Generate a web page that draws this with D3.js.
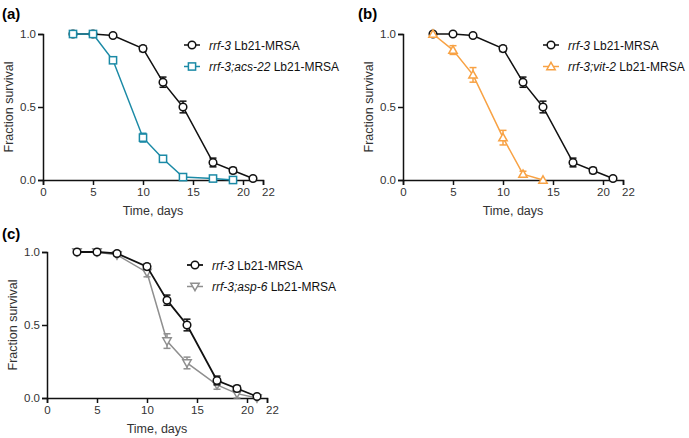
<!DOCTYPE html>
<html><head><meta charset="utf-8">
<script src="https://cdn.jsdelivr.net/npm/d3@7"></script>
<style>
body{margin:0;background:#fff;}
text{font-family:"Liberation Sans",Arial,sans-serif;}
</style></head>
<body><svg id="chart" width="689" height="438"></svg>
<script>
// ---- data ----
const xTicks = [0, 5, 10, 15, 20, 22];
const yTicks = [0, 0.5, 1.0];
const ctrlDays = [3, 5, 7, 10, 12, 14, 17, 19, 21];
const ctrlVals = [1.0, 1.0, 0.99, 0.9, 0.67, 0.5, 0.12, 0.065, 0.01];
const ctrlErr  = [0, 0, 0.005, 0.02, 0.035, 0.04, 0.03, 0.02, 0.005];
const acsDays = [3, 5, 7, 10, 12, 14, 17, 19];
const acsVals = [1.0, 1.0, 0.82, 0.29, 0.145, 0.02, 0.01, 0.0];
const acsErr  = [0, 0, 0.015, 0.03, 0.02, 0.005, 0.005, 0];
const vitDays = [3, 5, 7, 10, 12, 14];
const vitVals = [1.0, 0.89, 0.72, 0.29, 0.04, 0.0];
const vitErr  = [0, 0.03, 0.05, 0.05, 0.02, 0];
const aspDays = [3, 5, 7, 10, 12, 14, 17, 19, 21];
const aspVals = [1.0, 1.0, 0.98, 0.86, 0.39, 0.24, 0.09, 0.03, 0.0];
const aspErr  = [0, 0, 0.01, 0.03, 0.05, 0.04, 0.03, 0.03, 0.005];
const ctrlLabel = ["rrf-3", " Lb21-MRSA"];
const acsLabel = ["rrf-3;acs-22", " Lb21-MRSA"];
const vitLabel = ["rrf-3;vit-2", " Lb21-MRSA"];
const aspLabel = ["rrf-3;asp-6", " Lb21-MRSA"];

const svg = d3.select("#chart");

function panel(opts){
  const g = svg.append("g");
  const x = d3.scaleLinear().domain([0,22]).range([opts.x0, opts.x0+220]);
  const y = d3.scaleLinear().domain([0,1]).range([opts.y0+146, opts.y0]);
  g.append("text").attr("x", opts.lx).attr("y", opts.ly).attr("font-size",15).attr("font-weight","bold").text(opts.letter);
  const xa = g.append("g").attr("transform",`translate(0,${y(0)})`)
    .call(d3.axisBottom(x).tickValues(xTicks).tickFormat(d3.format("d")).tickSize(5).tickPadding(3));
  const ya = g.append("g").attr("transform",`translate(${x(0)},0)`)
    .call(d3.axisLeft(y).tickValues(yTicks).tickFormat(d3.format(".1f")).tickSize(5).tickPadding(2));
  [xa,ya].forEach(a=>{
    a.select(".domain").attr("stroke","#111").attr("stroke-width",1.5);
    a.selectAll(".tick line").attr("stroke","#111").attr("stroke-width",1.5);
    a.selectAll(".tick text").attr("font-size",11.5).attr("fill","#333").attr("font-family","Liberation Sans, Arial, sans-serif");
  });
  xa.selectAll(".tick text").filter(d=>d===22).attr("dx",5);
  g.append("text").attr("x", x(11)).attr("y", y(0)+35).attr("text-anchor","middle").attr("font-size",12.5).attr("fill","#333").text("Time, days");
  g.append("text").attr("transform",`translate(${opts.x0-30},${y(0.5)}) rotate(-90)`).attr("text-anchor","middle").attr("font-size",12.5).attr("fill","#333").text("Fraction survival");

  opts.series.forEach(s=>{
    const pts = s.days.map((d,i)=>({x:d,y:s.vals[i],e:s.err[i]}));
    const sg = g.append("g");
    sg.append("path").datum(pts).attr("fill","none").attr("stroke",s.color).attr("stroke-width",s.lw)
      .attr("d", d3.line().x(d=>x(d.x)).y(d=>y(d.y)));
    pts.filter(d=>d.e>0.008).forEach(d=>{
      const top = y(Math.min(1,d.y+d.e)), bot = y(Math.max(0,d.y-d.e));
      sg.append("line").attr("x1",x(d.x)).attr("x2",x(d.x)).attr("y1",top).attr("y2",bot).attr("stroke",s.color).attr("stroke-width",1.5);
      [top,bot].forEach(yy=>sg.append("line").attr("x1",x(d.x)-3.5).attr("x2",x(d.x)+3.5).attr("y1",yy).attr("y2",yy).attr("stroke",s.color).attr("stroke-width",1.5));
    });
    pts.forEach(d=>drawMarker(sg, s.shape, x(d.x), y(d.y), s.color));
  });
  opts.series.slice().sort((a,b)=>a.legendRow-b.legendRow).forEach(s=>{
    const ly = opts.legY + s.legendRow*21.5;
    g.append("line").attr("x1",opts.legX).attr("x2",opts.legX+16).attr("y1",ly).attr("y2",ly).attr("stroke",s.color).attr("stroke-width",s.lw);
    drawMarker(g, s.shape, opts.legX+8, ly, s.color);
    const t = g.append("text").attr("x",opts.legX+25).attr("y",ly+4.5).attr("font-size",12).attr("fill","#111");
    t.append("tspan").attr("font-style","italic").text(s.label[0]);
    t.append("tspan").text(s.label[1]);
  });
}

function drawMarker(g, shape, cx, cy, color){
  if(shape==="circle"){
    g.append("circle").attr("cx",cx).attr("cy",cy).attr("r",3.8).attr("fill","white").attr("stroke",color).attr("stroke-width",1.5);
  } else if(shape==="square"){
    g.append("rect").attr("x",cx-3.6).attr("y",cy-3.6).attr("width",7.2).attr("height",7.2).attr("fill","white").attr("stroke",color).attr("stroke-width",1.5);
  } else if(shape==="tri"){
    g.append("path").attr("d",`M${cx},${cy-4.2}L${cx+4.2},${cy+3.2}L${cx-4.2},${cy+3.2}Z`).attr("fill","white").attr("stroke",color).attr("stroke-width",1.5);
  } else if(shape==="tridown"){
    g.append("path").attr("d",`M${cx},${cy+4.2}L${cx+4.2},${cy-3.2}L${cx-4.2},${cy-3.2}Z`).attr("fill","white").attr("stroke",color).attr("stroke-width",1.5);
  }
}

const black = {days:ctrlDays, vals:ctrlVals, err:ctrlErr, color:"#111", shape:"circle", lw:1.5, label:ctrlLabel, legendRow:0};
panel({letter:"(a)", lx:2, ly:19, x0:43, y0:34, legX:184, legY:45,
  series:[black, {days:acsDays, vals:acsVals, err:acsErr, color:"#1b8aa6", shape:"square", lw:1.5, label:acsLabel, legendRow:1}]});
panel({letter:"(b)", lx:358, ly:19, x0:403, y0:34, legX:543, legY:45,
  series:[black, {days:vitDays, vals:vitVals, err:vitErr, color:"#f8a244", shape:"tri", lw:1.5, label:vitLabel, legendRow:1}]});
panel({letter:"(c)", lx:2, ly:239, x0:47, y0:252, legX:187, legY:265,
  series:[{days:aspDays, vals:aspVals, err:aspErr, color:"#8f8f8f", shape:"tridown", lw:1.5, label:aspLabel, legendRow:1},
          Object.assign({}, black, {lw:1.8})]});
</script></body></html>
